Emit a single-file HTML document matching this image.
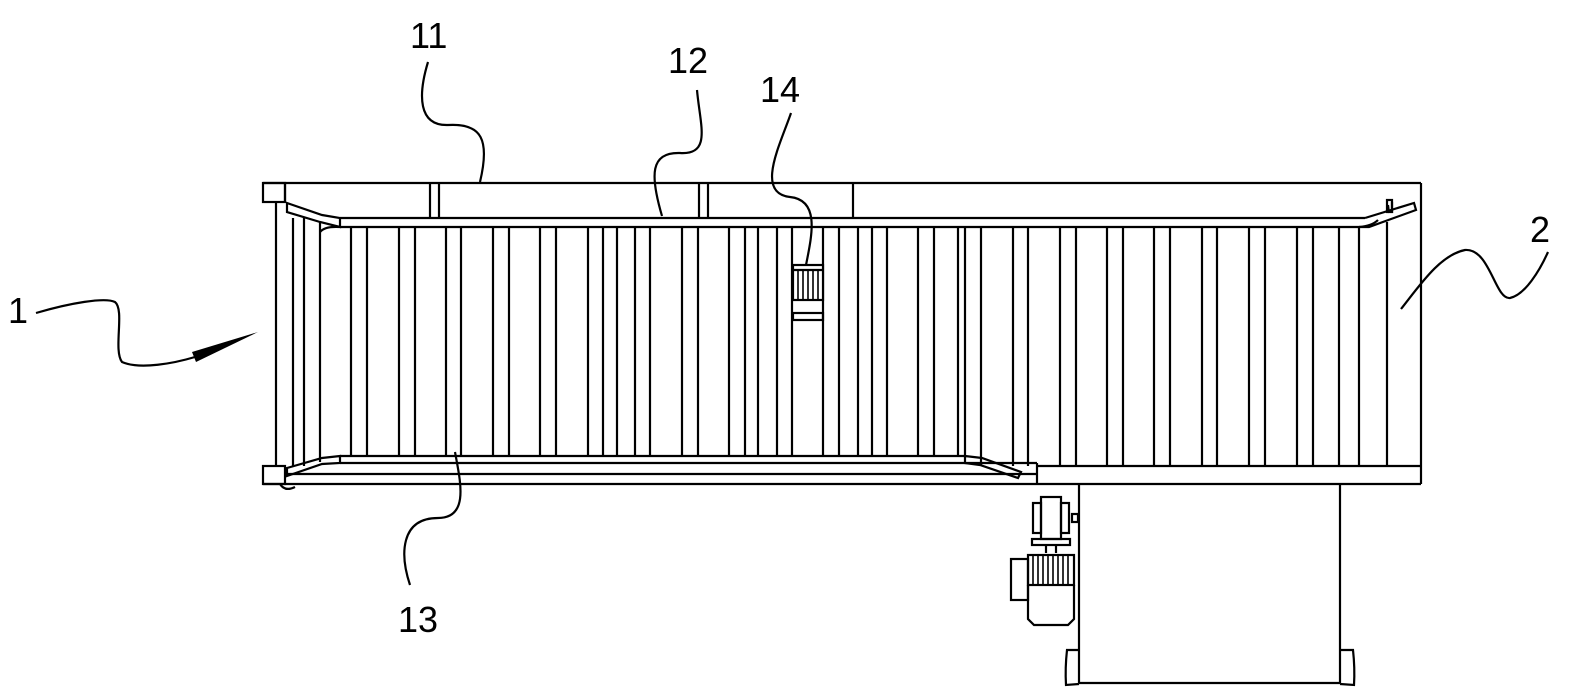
<!DOCTYPE html>
<html><head><meta charset="utf-8"><style>
html,body{margin:0;padding:0;background:#fff;width:1575px;height:698px;overflow:hidden}
svg{display:block}
text{font-family:"Liberation Sans",sans-serif;font-size:36px;fill:#000}
</style></head><body>
<svg width="1575" height="698" viewBox="0 0 1575 698" xmlns="http://www.w3.org/2000/svg">
<g fill="none" stroke="#000" stroke-width="2.2">
<!-- outer frame -->
<line x1="263" y1="183" x2="1421" y2="183"/>
<line x1="1421" y1="183" x2="1421" y2="484"/>
<line x1="263" y1="484" x2="1421" y2="484"/>
<rect x="263" y="183" width="22" height="19"/>
<rect x="263" y="466" width="22" height="18"/>
<line x1="285" y1="183" x2="285" y2="202"/>
<!-- top frame verticals -->
<line x1="430" y1="183" x2="430" y2="218"/><line x1="439" y1="183" x2="439" y2="218"/>
<line x1="699" y1="183" x2="699" y2="218"/><line x1="708" y1="183" x2="708" y2="218"/>
<line x1="853" y1="183" x2="853" y2="218"/>
<!-- top rail -->
<line x1="340" y1="218" x2="1365" y2="218"/>
<line x1="340" y1="227" x2="1365" y2="227"/>
<!-- bottom rail -->
<line x1="340" y1="456" x2="965" y2="456"/>
<line x1="340" y1="463" x2="1037" y2="463"/>
<line x1="285" y1="474" x2="1037" y2="474"/>
<line x1="1037" y1="463" x2="1037" y2="484"/>
<line x1="1037" y1="466" x2="1421" y2="466"/>
<!-- left verticals -->
<line x1="276" y1="202" x2="276" y2="466"/>
<line x1="293" y1="218" x2="293" y2="466"/>
<line x1="304" y1="218" x2="304" y2="466"/>
<line x1="320" y1="222" x2="320" y2="462"/>
<!-- left guides -->
<path d="M287,203 L322,215 L340,218 L340,227 L320,222 L287,212 Z"/>
<path d="M340,227 Q325,226 320,232"/>
<path d="M287,468 L322,458 L340,456 L340,463 L322,464 L287,476 Z"/>
<path d="M280,484 Q285,492 295,487"/>
<!-- right guide near 1033 -->
<path d="M965,456 L982,458 L1021,472 L1018,478 L980,465 L965,463 Z"/>
<!-- right top guide -->
<path d="M1365,218 L1414,203 L1416,210 L1369,227 L1365,227"/>
<path d="M1388,205 L1389,213 M1392,202 L1392,213"/>
<rect x="1387" y="200" width="5" height="12"/>
<line x1="1387" y1="222" x2="1387" y2="466"/>
<path d="M1359,227 Q1372,226 1378,220"/>
<!-- rollers -->
<g id="r">
<line x1="351" y1="227" x2="351" y2="456"/><line x1="367" y1="227" x2="367" y2="456"/>
<line x1="399" y1="227" x2="399" y2="456"/><line x1="415" y1="227" x2="415" y2="456"/>
<line x1="446" y1="227" x2="446" y2="456"/><line x1="461" y1="227" x2="461" y2="456"/>
<line x1="493" y1="227" x2="493" y2="456"/><line x1="509" y1="227" x2="509" y2="456"/>
<line x1="540" y1="227" x2="540" y2="456"/><line x1="556" y1="227" x2="556" y2="456"/>
<line x1="588" y1="227" x2="588" y2="456"/><line x1="603" y1="227" x2="603" y2="456"/>
<line x1="617" y1="227" x2="617" y2="456"/><line x1="635" y1="227" x2="635" y2="456"/>
<line x1="650" y1="227" x2="650" y2="456"/><line x1="682" y1="227" x2="682" y2="456"/>
<line x1="698" y1="227" x2="698" y2="456"/><line x1="729" y1="227" x2="729" y2="456"/>
<line x1="745" y1="227" x2="745" y2="456"/><line x1="758" y1="227" x2="758" y2="456"/>
<line x1="777" y1="227" x2="777" y2="456"/><line x1="792" y1="227" x2="792" y2="456"/>
<line x1="823" y1="227" x2="823" y2="456"/><line x1="839" y1="227" x2="839" y2="456"/>
<line x1="858" y1="227" x2="858" y2="456"/><line x1="872" y1="227" x2="872" y2="456"/>
<line x1="887" y1="227" x2="887" y2="456"/><line x1="918" y1="227" x2="918" y2="456"/>
<line x1="934" y1="227" x2="934" y2="456"/><line x1="958" y1="227" x2="958" y2="456"/>
<line x1="965" y1="227" x2="965" y2="456"/><line x1="981" y1="227" x2="981" y2="466"/>
<line x1="1013" y1="227" x2="1013" y2="466"/><line x1="1028" y1="227" x2="1028" y2="466"/>
<line x1="1060" y1="227" x2="1060" y2="466"/><line x1="1076" y1="227" x2="1076" y2="466"/>
<line x1="1107" y1="227" x2="1107" y2="466"/><line x1="1123" y1="227" x2="1123" y2="466"/>
<line x1="1154" y1="227" x2="1154" y2="466"/><line x1="1170" y1="227" x2="1170" y2="466"/>
<line x1="1202" y1="227" x2="1202" y2="466"/><line x1="1217" y1="227" x2="1217" y2="466"/>
<line x1="1249" y1="227" x2="1249" y2="466"/><line x1="1265" y1="227" x2="1265" y2="466"/>
<line x1="1297" y1="227" x2="1297" y2="466"/><line x1="1313" y1="227" x2="1313" y2="466"/>
<line x1="1339" y1="227" x2="1339" y2="466"/><line x1="1359" y1="227" x2="1359" y2="466"/>
</g>
<!-- part 14 -->
<rect x="793" y="265" width="30" height="35" fill="#fff"/>
<line x1="793" y1="270" x2="823" y2="270"/>
<path d="M798,270V300M803,270V300M808,270V300M813,270V300M818,270V300" stroke-width="1.6"/>
<rect x="793" y="313" width="30" height="7"/>
<!-- stand -->
<line x1="1079" y1="484" x2="1079" y2="683"/>
<line x1="1340" y1="484" x2="1340" y2="683"/>
<line x1="1079" y1="683" x2="1340" y2="683"/>
<path d="M1079,650 L1067,650 Q1065,668 1066,685 L1079,684"/>
<path d="M1340,650 L1353,650 Q1355,668 1354,685 L1340,684"/>
<!-- motor -->
<rect x="1041" y="497" width="20" height="42"/>
<rect x="1033" y="503" width="8" height="30"/>
<rect x="1061" y="503" width="8" height="30"/>
<rect x="1072" y="514" width="6" height="8"/>
<rect x="1032" y="539" width="38" height="6"/>
<line x1="1046" y1="545" x2="1046" y2="553"/><line x1="1056" y1="545" x2="1056" y2="553"/>
<rect x="1028" y="555" width="46" height="30"/>
<path d="M1033,555V585M1038,555V585M1043,555V585M1048,555V585M1053,555V585M1058,555V585M1063,555V585M1068,555V585" stroke-width="1.6"/>
<path d="M1028,585 L1028,619 L1034,625 L1068,625 L1074,619 L1074,585"/>
<rect x="1011" y="559" width="17" height="41"/>
<!-- leaders -->
<path d="M428,62 C418,95 418,126 448,125 C482,123 490,140 480,182"/>
<path d="M697,90 C700,125 712,155 680,153 C650,152 650,175 662,216"/>
<path d="M791,113 C780,145 755,193 790,197 C820,200 812,235 806,265"/>
<path d="M36,313 C70,303 105,297 115,302 C125,310 113,350 122,362 C140,370 175,363 195,357"/>
<path d="M1401,309 C1420,285 1440,255 1465,250 C1490,248 1495,300 1510,298 C1525,295 1540,270 1548,252"/>
<path d="M455,452 C460,480 470,518 438,518 C400,518 400,555 410,585"/>
</g>
<polygon points="192,352 258,332 196,362" fill="#000"/>
<text x="410" y="48">11</text>
<text x="668" y="73">12</text>
<text x="760" y="102">14</text>
<text x="8" y="323">1</text>
<text x="1530" y="242">2</text>
<text x="398" y="632">13</text>
</svg>
</body></html>
